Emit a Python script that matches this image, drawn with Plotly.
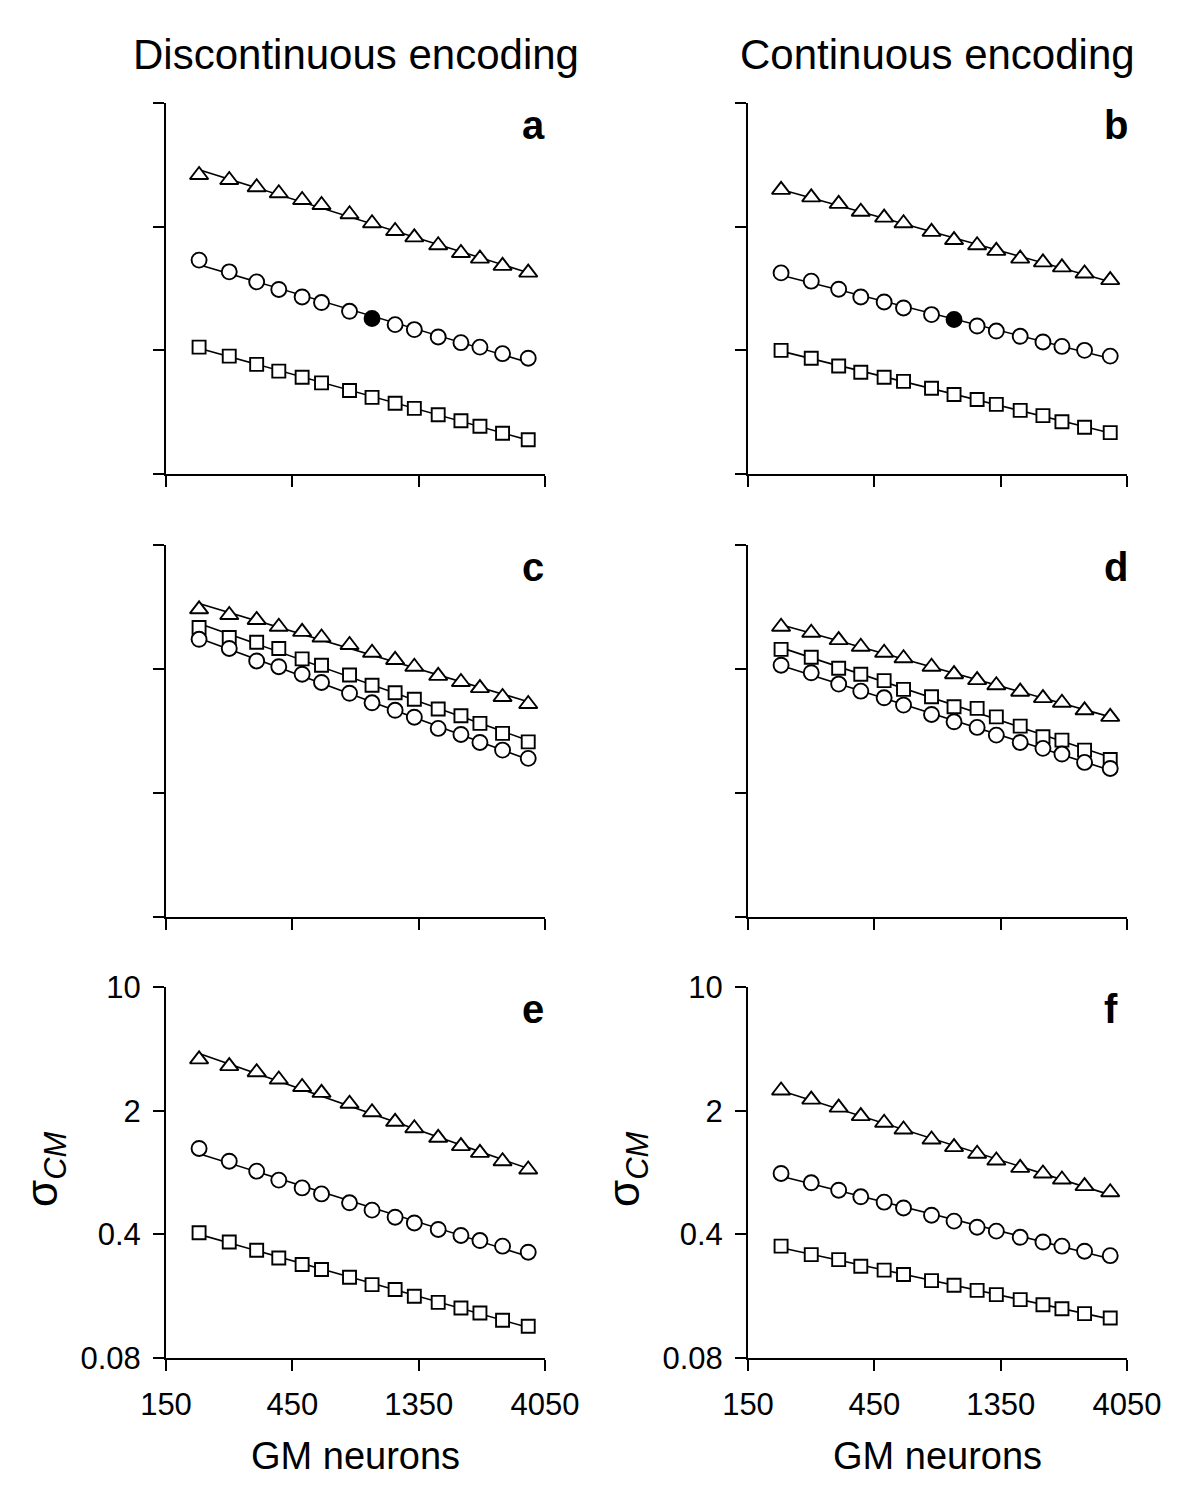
import numpy as np
import plotly.graph_objects as go

# ---------------- data ----------------
gm_neurons = [200, 260, 330, 400, 490, 580, 740, 900, 1100, 1300, 1600, 1950, 2300, 2800, 3500]
x_tick_vals = [150, 450, 1350, 4050]
y_tick_vals = [0.08, 0.4, 2, 10]
col_titles = ["Discontinuous encoding", "Continuous encoding"]
panel_letters = ["a", "b", "c", "d", "e", "f"]
filled_index = 7  # filled circle in panels a and b

a_tri = [3.92, 3.67, 3.34, 3.09, 2.83, 2.65, 2.35, 2.09, 1.89, 1.74, 1.57, 1.42, 1.32, 1.20, 1.10]
a_circ = [1.294, 1.111, 0.975, 0.883, 0.801, 0.745, 0.665, 0.605, 0.559, 0.524, 0.476, 0.442, 0.417, 0.383, 0.361]
a_sq = [0.417, 0.371, 0.333, 0.305, 0.282, 0.262, 0.237, 0.217, 0.201, 0.188, 0.173, 0.160, 0.149, 0.136, 0.125]

b_tri = [3.23, 2.93, 2.69, 2.43, 2.25, 2.09, 1.87, 1.68, 1.57, 1.46, 1.32, 1.256, 1.177, 1.088, 0.997]
b_circ = [1.096, 0.984, 0.886, 0.801, 0.751, 0.694, 0.637, 0.597, 0.549, 0.514, 0.480, 0.446, 0.421, 0.400, 0.371]
b_sq = [0.400, 0.361, 0.326, 0.301, 0.282, 0.267, 0.244, 0.225, 0.211, 0.198, 0.183, 0.171, 0.158, 0.147, 0.137]

c_tri = [4.34, 4.03, 3.78, 3.46, 3.24, 3.01, 2.73, 2.47, 2.25, 2.06, 1.83, 1.69, 1.56, 1.39, 1.27]
c_circ = [2.94, 2.61, 2.22, 2.06, 1.87, 1.68, 1.46, 1.29, 1.17, 1.07, 0.925, 0.855, 0.771, 0.698, 0.627]
c_sq = [3.43, 3.01, 2.83, 2.61, 2.28, 2.10, 1.85, 1.62, 1.47, 1.35, 1.19, 1.09, 0.987, 0.867, 0.777]

d_tri = [3.46, 3.20, 2.91, 2.67, 2.47, 2.30, 2.06, 1.87, 1.73, 1.62, 1.49, 1.37, 1.29, 1.17, 1.075]
d_circ = [2.10, 1.905, 1.644, 1.50, 1.376, 1.252, 1.109, 1.008, 0.937, 0.848, 0.771, 0.714, 0.663, 0.595, 0.550]
d_sq = [2.58, 2.33, 2.02, 1.87, 1.72, 1.535, 1.395, 1.225, 1.20, 1.075, 0.953, 0.830, 0.795, 0.698, 0.618]

e_tri = [3.90, 3.57, 3.30, 3.00, 2.72, 2.52, 2.19, 1.96, 1.73, 1.59, 1.405, 1.26, 1.155, 1.036, 0.930]
e_circ = [1.223, 1.036, 0.910, 0.810, 0.732, 0.677, 0.603, 0.548, 0.500, 0.464, 0.426, 0.394, 0.369, 0.343, 0.317]
e_sq = [0.408, 0.362, 0.325, 0.294, 0.270, 0.253, 0.229, 0.208, 0.195, 0.1786, 0.165, 0.1535, 0.1438, 0.1307, 0.1209]

f_tri = [2.60, 2.31, 2.08, 1.863, 1.708, 1.566, 1.375, 1.244, 1.141, 1.046, 0.950, 0.883, 0.817, 0.749, 0.692]
f_circ = [0.883, 0.782, 0.710, 0.652, 0.608, 0.564, 0.513, 0.475, 0.439, 0.417, 0.385, 0.362, 0.343, 0.321, 0.303]
f_sq = [0.343, 0.307, 0.288, 0.264, 0.251, 0.237, 0.219, 0.206, 0.193, 0.1826, 0.171, 0.160, 0.152, 0.1425, 0.1347]

panels_data = [
    (a_tri, a_circ, a_sq, True),
    (b_tri, b_circ, b_sq, True),
    (c_tri, c_circ, c_sq, False),
    (d_tri, d_circ, d_sq, False),
    (e_tri, e_circ, e_sq, False),
    (f_tri, f_circ, f_sq, False),
]

# ---------------- layout geometry ----------------
OFF = 8  # default page-body margin of the html page
W, H = 1200 - OFF, 1488 - OFF
col_px = [(166 - OFF, 545 - OFF), (748 - OFF, 1127 - OFF)]
row_px = [(103 - OFF, 474 - OFF), (545 - OFF, 917 - OFF), (987 - OFF, 1358 - OFF)]
FONT = "Liberation Sans, Arial, Helvetica, sans-serif"


def px_x(p):
    return p / W


def px_y(p):
    return 1 - p / H


fig = go.Figure()
layout = dict(
    width=W, height=H, autosize=False,
    margin=dict(l=0, r=0, t=0, b=0, pad=0),
    paper_bgcolor="white", plot_bgcolor="white",
    showlegend=False,
    font=dict(family=FONT, color="black"),
)
annotations = []

x_log = np.log10(np.array(gm_neurons, dtype=float))

for i, (tri, circ, sq, has_filled) in enumerate(panels_data):
    row, col = divmod(i, 2)
    ax_n = "" if i == 0 else str(i + 1)
    xref, yref = "x" + ax_n, "y" + ax_n
    x0, x1 = col_px[col]
    y0, y1 = row_px[row]
    bottom_row = (row == 2)

    layout["xaxis" + ax_n] = dict(
        type="log", range=[np.log10(150), np.log10(4050)],
        domain=[px_x(x0), px_x(x1)], anchor=yref, automargin=False,
        tickmode="array", tickvals=x_tick_vals, ticktext=[str(v) for v in x_tick_vals],
        showticklabels=bottom_row, ticks="outside", ticklen=11, tickwidth=2, tickcolor="black",
        showline=True, linecolor="black", linewidth=2,
        showgrid=False, zeroline=False,
        tickfont=dict(size=31, family=FONT, color="black"),
        ticklabelstandoff=7,
    )
    layout["yaxis" + ax_n] = dict(
        type="log", range=[np.log10(0.08), 1],
        domain=[px_y(y1), px_y(y0)], anchor=xref, automargin=False,
        tickmode="array", tickvals=y_tick_vals, ticktext=[str(v) for v in y_tick_vals],
        showticklabels=bottom_row, ticks="outside", ticklen=11, tickwidth=2, tickcolor="black",
        showline=True, linecolor="black", linewidth=2,
        showgrid=False, zeroline=False,
        tickfont=dict(size=31, family=FONT, color="black"),
        ticklabelstandoff=6,
    )

    series = [(tri, "triangle-up", 16), (sq, "square", 13), (circ, "circle", 15)]
    # fitted power-law lines (log-log regression of each series)
    for yvals, sym, size in series:
        slope, icpt = np.polyfit(x_log, np.log10(np.array(yvals)), 1)
        xs = [gm_neurons[0], gm_neurons[-1]]
        ys = [10 ** (icpt + slope * np.log10(v)) for v in xs]
        fig.add_trace(go.Scatter(x=xs, y=ys, mode="lines",
                                 line=dict(color="black", width=1.6),
                                 xaxis=xref, yaxis=yref, hoverinfo="skip"))
    for yvals, sym, size in series:
        colors = ["white"] * len(yvals)
        if sym == "circle" and has_filled:
            colors[filled_index] = "black"
        fig.add_trace(go.Scatter(x=gm_neurons, y=yvals, mode="markers",
                                 marker=dict(symbol=sym, size=size, color=colors,
                                             line=dict(color="black", width=1.9)),
                                 xaxis=xref, yaxis=yref, cliponaxis=False))

    # panel letter
    annotations.append(dict(
        text="<b>%s</b>" % panel_letters[i], xref="paper", yref="paper",
        x=px_x(x1 - 25), y=px_y(y0 + 22), xanchor="left", yanchor="middle",
        showarrow=False, font=dict(size=40, family=FONT, color="black"),
    ))

    if bottom_row:
        annotations.append(dict(
            text="GM neurons", xref="paper", yref="paper",
            x=px_x((x0 + x1) / 2), y=px_y(1456 - OFF), xanchor="center", yanchor="middle",
            showarrow=False, font=dict(size=38, family=FONT, color="black"),
        ))
        annotations.append(dict(
            text="σ<sub><i>CM</i></sub>", xref="paper", yref="paper",
            x=px_x(x0 - 121), y=px_y(1170 - OFF), xanchor="center", yanchor="middle",
            textangle=-90, showarrow=False, font=dict(size=44, family=FONT, color="black"),
        ))

for col, title in enumerate(col_titles):
    x0, x1 = col_px[col]
    annotations.append(dict(
        text=title, xref="paper", yref="paper",
        x=px_x((x0 + x1) / 2), y=px_y(54 - OFF), xanchor="center", yanchor="middle",
        showarrow=False, font=dict(size=42, family=FONT, color="black"),
    ))

layout["annotations"] = annotations
fig.update_layout(**layout)
fig.write_html("out.html")
